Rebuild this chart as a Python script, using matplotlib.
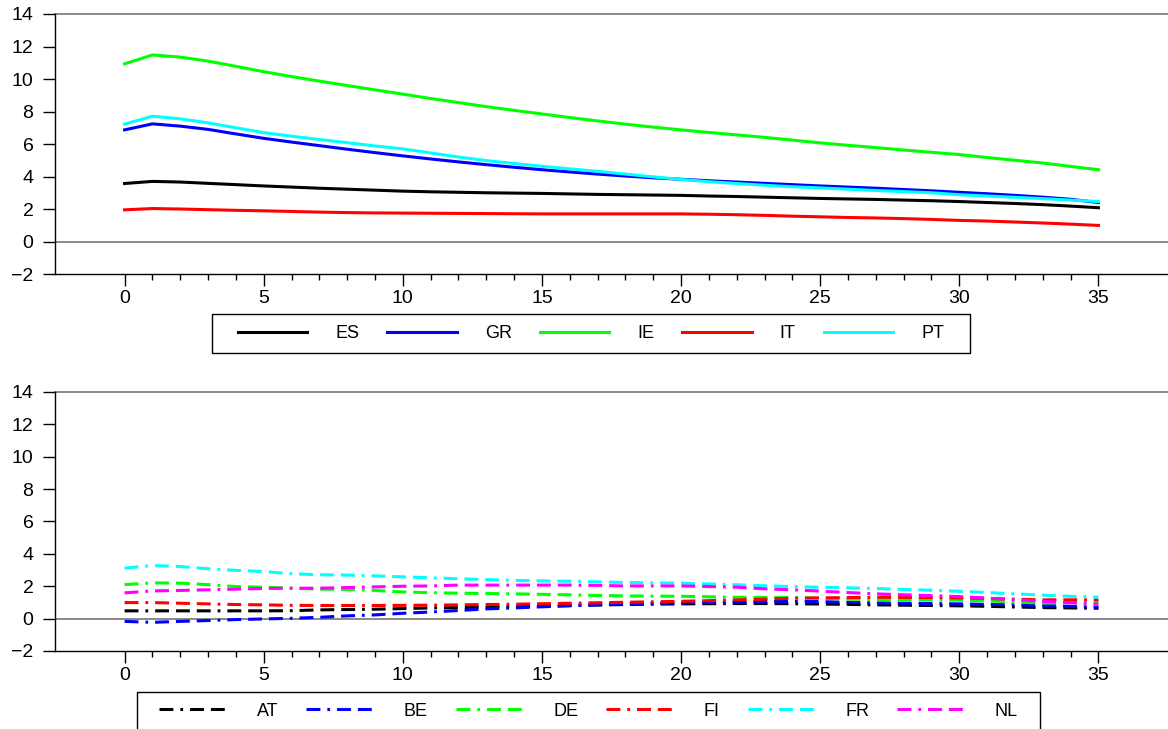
import numpy as np
import matplotlib.pyplot as plt
from matplotlib.patches import Rectangle

plt.rcParams['font.family'] = ['Liberation Sans', 'DejaVu Sans']
plt.rcParams['lines.scale_dashes'] = False

x = list(range(36))

# upper panel
ES = [3.57, 3.70, 3.66, 3.58, 3.50, 3.42, 3.35, 3.28, 3.22, 3.16, 3.10, 3.06, 3.03, 3.00, 2.98, 2.96, 2.93, 2.90,
      2.88, 2.86, 2.84, 2.80, 2.77, 2.73, 2.69, 2.65, 2.62, 2.59, 2.55, 2.51, 2.46, 2.40, 2.34, 2.27, 2.18, 2.08]
GR = [6.87, 7.24, 7.10, 6.90, 6.62, 6.35, 6.12, 5.90, 5.68, 5.47, 5.27, 5.08, 4.90, 4.73, 4.57, 4.42, 4.28, 4.15,
      4.03, 3.92, 3.83, 3.74, 3.66, 3.58, 3.50, 3.42, 3.35, 3.28, 3.20, 3.12, 3.03, 2.94, 2.84, 2.73, 2.60, 2.40]
IE = [10.93, 11.48, 11.35, 11.10, 10.78, 10.45, 10.15, 9.87, 9.60, 9.33, 9.07, 8.80, 8.55, 8.30, 8.07, 7.85, 7.63, 7.42,
      7.22, 7.04, 6.87, 6.71, 6.56, 6.41, 6.24, 6.07, 5.92, 5.78, 5.63, 5.49, 5.35, 5.17, 5.00, 4.83, 4.62, 4.42]
IT = [1.95, 2.03, 2.00, 1.96, 1.92, 1.89, 1.85, 1.81, 1.78, 1.76, 1.75, 1.74, 1.73, 1.72, 1.71, 1.70, 1.70, 1.70,
      1.70, 1.70, 1.70, 1.68, 1.65, 1.61, 1.56, 1.52, 1.48, 1.45, 1.41, 1.36, 1.30, 1.26, 1.20, 1.14, 1.07, 0.99]
PT = [7.22, 7.71, 7.55, 7.30, 7.00, 6.70, 6.48, 6.28, 6.08, 5.88, 5.70, 5.45, 5.20, 4.98, 4.80, 4.63, 4.47, 4.32,
      4.15, 3.98, 3.82, 3.68, 3.57, 3.46, 3.37, 3.30, 3.22, 3.14, 3.07, 3.00, 2.88, 2.80, 2.72, 2.64, 2.55, 2.46]

# lower panel
AT = [0.48, 0.48, 0.48, 0.48, 0.48, 0.48, 0.49, 0.54, 0.56, 0.58, 0.62, 0.66, 0.68, 0.71, 0.74, 0.78, 0.81, 0.84,
      0.87, 0.89, 0.91, 0.92, 0.93, 0.93, 0.92, 0.90, 0.88, 0.85, 0.83, 0.81, 0.79, 0.76, 0.72, 0.68, 0.66, 0.64]
BE = [-0.17, -0.23, -0.17, -0.12, -0.06, -0.02, 0.02, 0.08, 0.17, 0.23, 0.33, 0.41, 0.50, 0.60, 0.66, 0.73, 0.79, 0.85,
      0.91, 0.94, 0.97, 1.00, 1.03, 1.05, 1.07, 1.05, 1.01, 0.97, 0.95, 0.93, 0.91, 0.88, 0.85, 0.81, 0.76, 0.70]
DE = [2.10, 2.21, 2.19, 2.10, 1.98, 1.94, 1.88, 1.82, 1.80, 1.74, 1.65, 1.60, 1.57, 1.55, 1.53, 1.50, 1.47, 1.43,
      1.40, 1.39, 1.38, 1.35, 1.32, 1.30, 1.30, 1.26, 1.21, 1.18, 1.16, 1.15, 1.14, 1.10, 1.02, 0.96, 1.00, 1.03]
FI = [0.99, 0.99, 0.95, 0.91, 0.87, 0.85, 0.82, 0.81, 0.81, 0.81, 0.82, 0.83, 0.85, 0.87, 0.89, 0.92, 0.95, 0.98,
      1.01, 1.04, 1.07, 1.11, 1.16, 1.20, 1.26, 1.28, 1.30, 1.32, 1.31, 1.30, 1.28, 1.25, 1.20, 1.16, 1.16, 1.16]
FR = [3.12, 3.28, 3.22, 3.08, 2.98, 2.91, 2.77, 2.71, 2.69, 2.64, 2.58, 2.52, 2.46, 2.41, 2.36, 2.33, 2.31, 2.27,
      2.23, 2.21, 2.19, 2.14, 2.09, 2.03, 1.98, 1.94, 1.90, 1.86, 1.80, 1.75, 1.69, 1.61, 1.53, 1.45, 1.38, 1.32]
NL = [1.59, 1.71, 1.74, 1.78, 1.82, 1.86, 1.88, 1.88, 1.92, 1.96, 2.00, 2.02, 2.07, 2.07, 2.07, 2.07, 2.07, 2.05,
      2.02, 2.02, 2.02, 1.98, 1.94, 1.84, 1.78, 1.70, 1.61, 1.53, 1.47, 1.42, 1.36, 1.27, 1.17, 1.07, 0.98, 0.89]

top_names = ['ES', 'GR', 'IE', 'IT', 'PT']
top_data = [ES, GR, IE, IT, PT]
bot_names = ['AT', 'BE', 'DE', 'FI', 'FR', 'NL']
bot_data = [AT, BE, DE, FI, FR, NL]
top_cols = ['black', '#0000ff', '#00ff00', '#ff0000', '#00ffff']
bot_cols = ['black', '#0000ff', '#00ff00', '#ff0000', '#00ffff', '#ff00ff']

yticks = list(range(-2, 15, 2))
xmajor = list(range(0, 36, 5))
xminor = list(range(0, 36))

dash_dot = (0, (10, 5, 2, 5, 10, 5, 10, 5))

fig = plt.figure(figsize=(11.68, 7.29), dpi=100)
ax1 = fig.add_axes([0.0471, 0.6241, 0.9529, 0.3567])
ax2 = fig.add_axes([0.0471, 0.1070, 0.9529, 0.3553])


def style_axes(ax):
    ax.set_xlim(-2.5, 37.5)
    ax.set_ylim(-2, 14)
    for s in ['top', 'right']:
        ax.spines[s].set_visible(False)
    for s in ['left', 'bottom']:
        ax.spines[s].set_linewidth(1.0)
        ax.spines[s].set_color('black')
    ax.axhline(14, color='#808080', lw=1.3, clip_on=False, zorder=1)
    ax.axhline(0, color='#808080', lw=1.3, zorder=1)
    ax.set_yticks(yticks)
    ax.set_xticks(xmajor)
    ax.set_xticks(xminor, minor=True)
    ax.tick_params(axis='y', length=8.5, width=1, pad=7, labelsize=14)
    ax.tick_params(axis='x', which='major', length=8.5, width=1, pad=3, labelsize=14)
    ax.tick_params(axis='x', which='minor', length=4.3, width=1)


style_axes(ax1)
style_axes(ax2)

for name, vals, c in zip(top_names, top_data, top_cols):
    ax1.plot(x, vals, color=c, lw=2.2, label=name, zorder=3)

for name, vals, c in zip(bot_names, bot_data, bot_cols):
    ax2.plot(x, vals, color=c, lw=2.2, linestyle=dash_dot, label=name, zorder=3)

# legend boxes drawn by hand (square frame, wide inner margin)
W, H = 1168.0, 729.0
fig.patches.append(Rectangle((212 / W, 1 - 353 / H), 758 / W, 39 / H, transform=fig.transFigure,
                             fill=False, edgecolor='black', lw=1.0))
fig.patches.append(Rectangle((137 / W, -0.02), 903 / W, 1 - 692 / H + 0.02, transform=fig.transFigure,
                             fill=False, edgecolor='black', lw=1.0))

leg_kw = dict(ncol=6, fontsize=13, handlelength=3.85, handletextpad=1.55, columnspacing=1.55,
              frameon=False, borderpad=0, borderaxespad=0)
ax1.legend(loc='center', bbox_to_anchor=(591 / W, 1 - 333.5 / H), bbox_transform=fig.transFigure, **leg_kw)
ax2.legend(loc='center', bbox_to_anchor=(588.5 / W, 1 - 711 / H), bbox_transform=fig.transFigure, **leg_kw)

plt.savefig('out.png', dpi=100)
